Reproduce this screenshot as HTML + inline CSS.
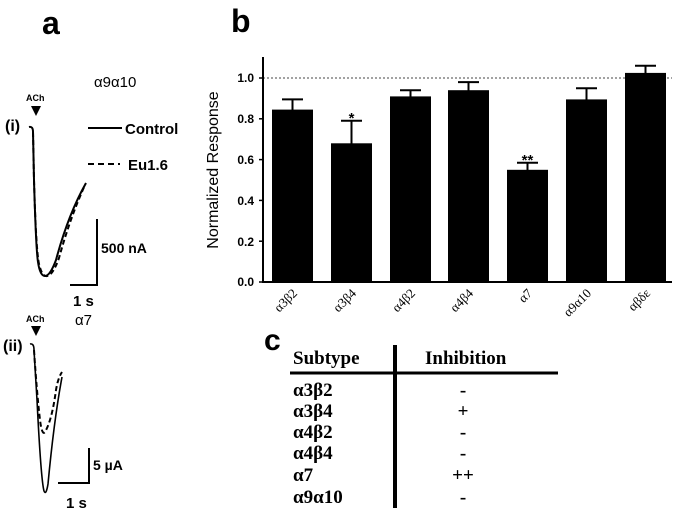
<!DOCTYPE html>
<html><head><style>
body{margin:0;background:#fff;}
svg{display:block}
</style></head><body>
<svg width="675" height="513" xmlns="http://www.w3.org/2000/svg" font-family="Liberation Sans, sans-serif">
<rect width="675" height="513" fill="#fff"/>
<text x="42" y="34" font-size="32" font-weight="bold">a</text>
<text x="231" y="32" font-size="32" font-weight="bold">b</text>
<text x="264" y="350" font-size="30" font-weight="bold">c</text>

<!-- Panel a (i) -->
<text x="94" y="87" font-size="15">α9α10</text>
<text x="26" y="101" font-size="9" font-weight="bold">ACh</text>
<polygon points="31,106 41,106 36,116" fill="#000"/>
<text x="5" y="131" font-size="16" font-weight="bold">(i)</text>
<path d="M29,127 Q33,126 33,132 L34,180 Q36,250 38,262 Q40,276 45,276 Q50,276 56,260 Q68,215 86,183" fill="none" stroke="#000" stroke-width="2"/>
<path d="M33,132 L34,180 Q36,250 39,264 Q42,277 47,276 Q53,275 59,258 Q70,218 85,185" fill="none" stroke="#000" stroke-width="2" stroke-dasharray="5,3"/>
<line x1="88" y1="128" x2="122" y2="128" stroke="#000" stroke-width="2"/>
<text x="125" y="134" font-size="15" font-weight="bold">Control</text>
<line x1="88" y1="164" x2="120" y2="164" stroke="#000" stroke-width="2" stroke-dasharray="6,4"/>
<text x="128" y="170" font-size="15" font-weight="bold">Eu1.6</text>
<path d="M97,219 L97,285 L70,285" fill="none" stroke="#000" stroke-width="2"/>
<text x="101" y="253" font-size="14" font-weight="bold">500 nA</text>
<text x="73" y="306" font-size="15" font-weight="bold">1 s</text>

<!-- Panel a (ii) -->
<text x="75" y="325" font-size="15">α7</text>
<text x="26" y="322" font-size="9" font-weight="bold">ACh</text>
<polygon points="31,326 41,326 36,336" fill="#000"/>
<text x="3" y="351" font-size="16" font-weight="bold">(ii)</text>
<path d="M30,344 Q34,343 34,350 L37,400 Q41,480 44,491 Q46,496 48,484 Q54,420 62,377" fill="none" stroke="#000" stroke-width="1.6"/>
<path d="M34,350 Q37,395 40,420 Q42,436 45,432 Q52,420 56,390 Q58,378 62,372" fill="none" stroke="#000" stroke-width="2" stroke-dasharray="5,3"/>
<path d="M89,448 L89,483 L58,483" fill="none" stroke="#000" stroke-width="2"/>
<text x="93" y="470" font-size="14" font-weight="bold">5 µA</text>
<text x="66" y="508" font-size="15" font-weight="bold">1 s</text>

<!-- Panel b -->
<line x1="263" y1="78" x2="672" y2="78" stroke="#444" stroke-width="1" stroke-dasharray="2,2"/>
<g fill="#000">
<rect x="272" y="109.6" width="41" height="172.4"/>
<rect x="331" y="143.3" width="41" height="138.7"/>
<rect x="390" y="96.4" width="41" height="185.6"/>
<rect x="448" y="90.2" width="41" height="191.8"/>
<rect x="507" y="169.8" width="41" height="112.2"/>
<rect x="566" y="99.4" width="41" height="182.6"/>
<rect x="625" y="72.9" width="41" height="209.1"/>
</g>
<g stroke="#000" stroke-width="2">
<line x1="292.5" y1="110" x2="292.5" y2="99.4"/><line x1="282" y1="99.4" x2="303" y2="99.4"/>
<line x1="351.5" y1="144" x2="351.5" y2="120.8"/><line x1="341" y1="120.8" x2="362" y2="120.8"/>
<line x1="410.5" y1="97" x2="410.5" y2="90.2"/><line x1="400" y1="90.2" x2="421" y2="90.2"/>
<line x1="468.5" y1="91" x2="468.5" y2="82.1"/><line x1="458" y1="82.1" x2="479" y2="82.1"/>
<line x1="527.5" y1="170" x2="527.5" y2="162.7"/><line x1="517" y1="162.7" x2="538" y2="162.7"/>
<line x1="586.5" y1="100" x2="586.5" y2="88.2"/><line x1="576" y1="88.2" x2="597" y2="88.2"/>
<line x1="645.5" y1="73" x2="645.5" y2="65.8"/><line x1="635" y1="65.8" x2="656" y2="65.8"/>
</g>
<text x="351.5" y="123" font-size="15" font-weight="bold" text-anchor="middle">*</text>
<text x="527.5" y="165" font-size="15" font-weight="bold" text-anchor="middle">**</text>
<path d="M263,57 L263,282 L672,282" fill="none" stroke="#000" stroke-width="2"/>
<g stroke="#000" stroke-width="1.5">
<line x1="259" y1="282" x2="263" y2="282"/><line x1="259" y1="241.2" x2="263" y2="241.2"/><line x1="259" y1="200.4" x2="263" y2="200.4"/><line x1="259" y1="159.6" x2="263" y2="159.6"/><line x1="259" y1="118.8" x2="263" y2="118.8"/><line x1="259" y1="78" x2="263" y2="78"/>
</g>
<g font-size="12" font-weight="bold" text-anchor="end">
<text x="254" y="286">0.0</text><text x="254" y="246">0.2</text><text x="254" y="205">0.4</text><text x="254" y="164">0.6</text><text x="254" y="123">0.8</text><text x="254" y="82">1.0</text>
</g>
<text transform="translate(218,170) rotate(-90)" font-size="16" text-anchor="middle">Normalized Response</text>
<g font-size="13" font-family="Liberation Serif, serif" text-anchor="end">
<text transform="translate(298,294) rotate(-45)">α3β2</text>
<text transform="translate(357,294) rotate(-45)">α3β4</text>
<text transform="translate(416,294) rotate(-45)">α4β2</text>
<text transform="translate(474,294) rotate(-45)">α4β4</text>
<text transform="translate(533,294) rotate(-45)">α7</text>
<text transform="translate(592,294) rotate(-45)">α9α10</text>
<text transform="translate(651,294) rotate(-45)">αβδε</text>
</g>

<!-- Panel c table -->
<g font-family="Liberation Serif, serif" font-size="19" font-weight="bold">
<text x="293" y="364">Subtype</text>
<text x="425" y="364">Inhibition</text>
<line x1="290" y1="373" x2="558" y2="373" stroke="#000" stroke-width="3"/>
<line x1="395" y1="345" x2="395" y2="508" stroke="#000" stroke-width="4"/>
<text x="293" y="396">α3β2</text><text x="463" y="396" text-anchor="middle">-</text>
<text x="293" y="417">α3β4</text><text x="463" y="417" text-anchor="middle">+</text>
<text x="293" y="438">α4β2</text><text x="463" y="438" text-anchor="middle">-</text>
<text x="293" y="459">α4β4</text><text x="463" y="459" text-anchor="middle">-</text>
<text x="293" y="481">α7</text><text x="463" y="481" text-anchor="middle">++</text>
<text x="293" y="503">α9α10</text><text x="463" y="503" text-anchor="middle">-</text>
</g>
</svg>
</body></html>
